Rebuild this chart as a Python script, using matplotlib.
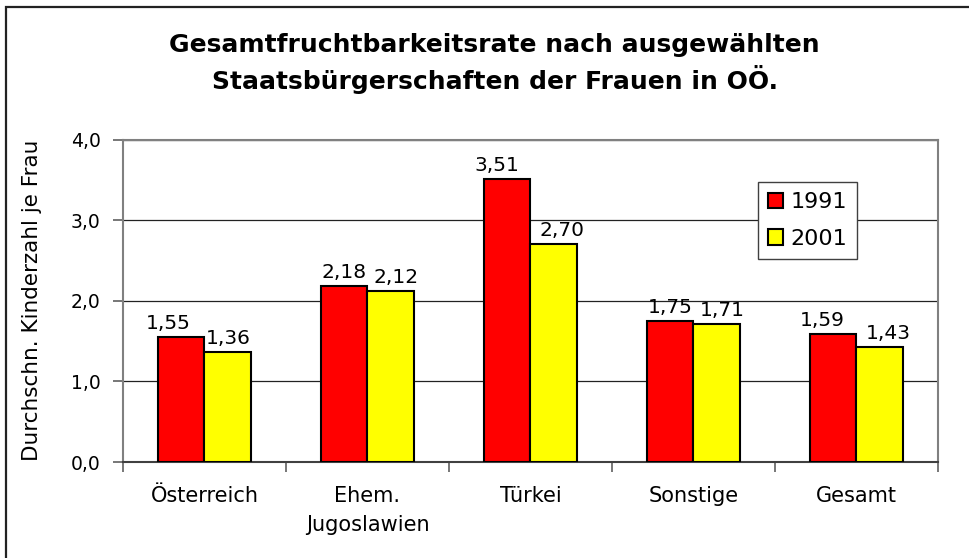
import matplotlib.pyplot as plt
import numpy as np
from matplotlib.patches import Rectangle

# Data
categories = ['Österreich', 'Ehem.\nJugoslawien', 'Türkei', 'Sonstige', 'Gesamt']
series_names = ['1991', '2001']
values_1991 = [1.55, 2.18, 3.51, 1.75, 1.59]
values_2001 = [1.36, 2.12, 2.70, 1.71, 1.43]
yticks = [0, 1, 2, 3, 4]
ytick_labels = ['0,0', '1,0', '2,0', '3,0', '4,0']

fig = plt.figure(figsize=(9.7, 5.58), dpi=100)
ax = fig.add_axes([0.1268, 0.172, 0.8402, 0.578])

x = np.arange(len(categories))
w = 0.288

bars1 = ax.bar(x - w / 2, values_1991, w, color='#ff0000', edgecolor='black',
               linewidth=1.5, label=series_names[0], zorder=3)
bars2 = ax.bar(x + w / 2, values_2001, w, color='#ffff00', edgecolor='black',
               linewidth=1.5, label=series_names[1], zorder=3)

# Value labels with comma decimals (Excel nudges some sideways to avoid overlap)
nudge = {0: [-9, 0, -7, 0, -8], 1: [0, 4, 6, 4, 6]}
for k, bars in enumerate((bars1, bars2)):
    for i, b in enumerate(bars):
        h = b.get_height()
        ax.annotate(f'{h:.2f}'.replace('.', ','), (b.get_x() + b.get_width() / 2, h),
                    xytext=(nudge[k][i], 3), textcoords='offset points',
                    ha='center', va='bottom', fontsize=14.5, zorder=4)

ax.set_xlim(-0.5, len(categories) - 0.5)
ax.set_ylim(0, 4)
ax.set_yticks(yticks)
ax.set_yticklabels(ytick_labels, fontsize=13.5)
ax.set_xticks(np.arange(len(categories) + 1) - 0.5, minor=False)
ax.set_xticklabels([''] * (len(categories) + 1))
ax.set_xticks(x, minor=True)
ax.set_xticklabels(categories, minor=True, fontsize=15, linespacing=1.6)
ax.tick_params(axis='x', which='minor', length=0, pad=17)
ax.tick_params(axis='x', which='major', length=7, width=1.2, color='#606060')
ax.tick_params(axis='y', length=7, width=1.2, color='#606060', pad=9)

ax.grid(axis='y', color='#222222', linewidth=0.9, zorder=0)
for s in ax.spines.values():
    s.set_color('#808080')
    s.set_linewidth(1.5)
ax.spines['bottom'].set_color('#404040')

ax.set_ylabel('Durchschn. Kinderzahl je Frau', fontsize=15.5, labelpad=21)

leg = ax.legend(loc='upper left', bbox_to_anchor=(0.779, 0.868), borderaxespad=0,
                fontsize=16, handlelength=0.7, handleheight=0.7, handletextpad=0.3,
                labelspacing=0.75, fancybox=False, framealpha=1,
                borderpad=0.45)
leg.get_frame().set_edgecolor('#404040')
leg.get_frame().set_linewidth(1.0)

fig.text(0.51, 0.886, 'Gesamtfruchtbarkeitsrate nach ausgewählten\nStaatsbürgerschaften der Frauen in OÖ.',
         ha='center', va='center', fontsize=18, fontweight='bold', linespacing=1.35)

# Outer chart frame (only top and left edges visible)
fig.patches.append(Rectangle((6.5 / 970, -0.2), 1.5, 1.2 - 7 / 558, fill=False,
                             edgecolor='#222222', linewidth=1.6,
                             transform=fig.transFigure, figure=fig))

fig.savefig('out.png', dpi=100)
